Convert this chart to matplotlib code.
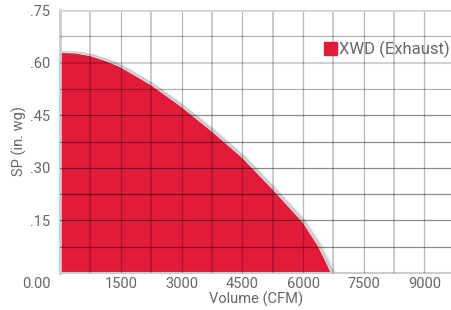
import matplotlib
matplotlib.use("Agg")
from matplotlib import pyplot as plt
from matplotlib.patches import Patch
import matplotlib.transforms as mtrans

# fan curve
volume = [0, 375, 750, 1125, 1500, 2250, 3000, 3750, 4500, 5250, 6000, 6375, 6600, 6700]
sp = [0.629, 0.628, 0.620, 0.606, 0.588, 0.537, 0.475, 0.405, 0.330, 0.240, 0.145, 0.078, 0.025, 0.0]
series_name = "XWD (Exhaust)"

xticks = [1500, 3000, 4500, 6000, 7500, 9000]
xticklabels = ["1500", "3000", "4500", "6000", "7500", "9000"]
yticks = [0, 0.15, 0.30, 0.45, 0.60, 0.75]
yticklabels = ["0.00", ".15", ".30", ".45", ".60", ".75"]

red = "#e31b3a"
txt = "#666666"
plt.rcParams['font.family'] = ['Roboto', 'DejaVu Sans']

fig = plt.figure(figsize=(4.52, 3.10), dpi=100)
ax = fig.add_axes([60/452, 1 - 273/310, 1 - 60/452, (273 - 10)/310])

# soft shadow along the edge
for k, a in zip([1, 2, 3, 4], [0.16, 0.10, 0.06, 0.03]):
    off = mtrans.offset_copy(ax.transData, fig=fig, x=k*1.0, y=0, units='dots')
    ax.plot(volume, sp, color='#444444', lw=2, alpha=a, transform=off, zorder=1,
            solid_capstyle='butt')
ax.fill_between(volume, sp, 0, color=red, lw=0, zorder=2)
ax.plot(volume, sp, color='#e0e0e0', lw=0.8, zorder=2.5)

# grid on top of the fill
for i in range(1, 14):
    x = i * 750
    ax.axvline(x, color='black', alpha=0.22 if i % 2 else 0.28, lw=1.3 if i % 2 else 0.9, zorder=3)
for i in range(1, 10):
    y = i * 0.075
    if i == 8:
        ax.axhline(y, color='black', alpha=0.18, lw=1.5, zorder=3)
    else:
        ax.axhline(y, color='black', alpha=0.45 if y < 0.5 else 0.3, lw=0.9, zorder=3)
ax.axhline(0.75, color='#d6d6d6', lw=2, zorder=3)

ax.set_xlim(0, (452 - 60) / 0.0405)
ax.set_ylim(0, 0.75)
ax.set_xticks(xticks)
ax.set_xticklabels(xticklabels)
ax.set_yticks(yticks)
ax.set_yticklabels(yticklabels)
ax.tick_params(length=0, labelsize=10.5, labelcolor=txt, pad=3)
ax.tick_params(axis='y', pad=7)
# the 0.00 label sits on the x label row
lab0 = ax.get_yticklabels()[0]
lab0.set_transform(lab0.get_transform() + mtrans.ScaledTranslation(0, -10/100, fig.dpi_scale_trans))

for s in ['top', 'right']:
    ax.spines[s].set_visible(False)
ax.spines['left'].set_color('#cccccc')
ax.spines['left'].set_linewidth(2)
ax.spines['bottom'].set_color('#cccccc')
ax.spines['bottom'].set_linewidth(1.5)

ax.set_xlabel("Volume (CFM)", fontsize=10.5, color=txt)
ax.set_ylabel("SP (in. wg)", fontsize=10.5, color=txt)
ax.yaxis.set_label_coords((27 - 60) / 392, 0.5)
ax.xaxis.set_label_coords(0.5, (273 - 292) / 263)

ax.legend(handles=[Patch(color=red, label=series_name)], loc='upper right',
          bbox_to_anchor=(450/452, 1 - 41/310), bbox_transform=fig.transFigure,
          frameon=False, fontsize=12, handlelength=0.8, handleheight=0.8,
          handletextpad=0.15, borderpad=0, borderaxespad=0, labelcolor=txt)

fig.savefig("out.png", dpi=100)
